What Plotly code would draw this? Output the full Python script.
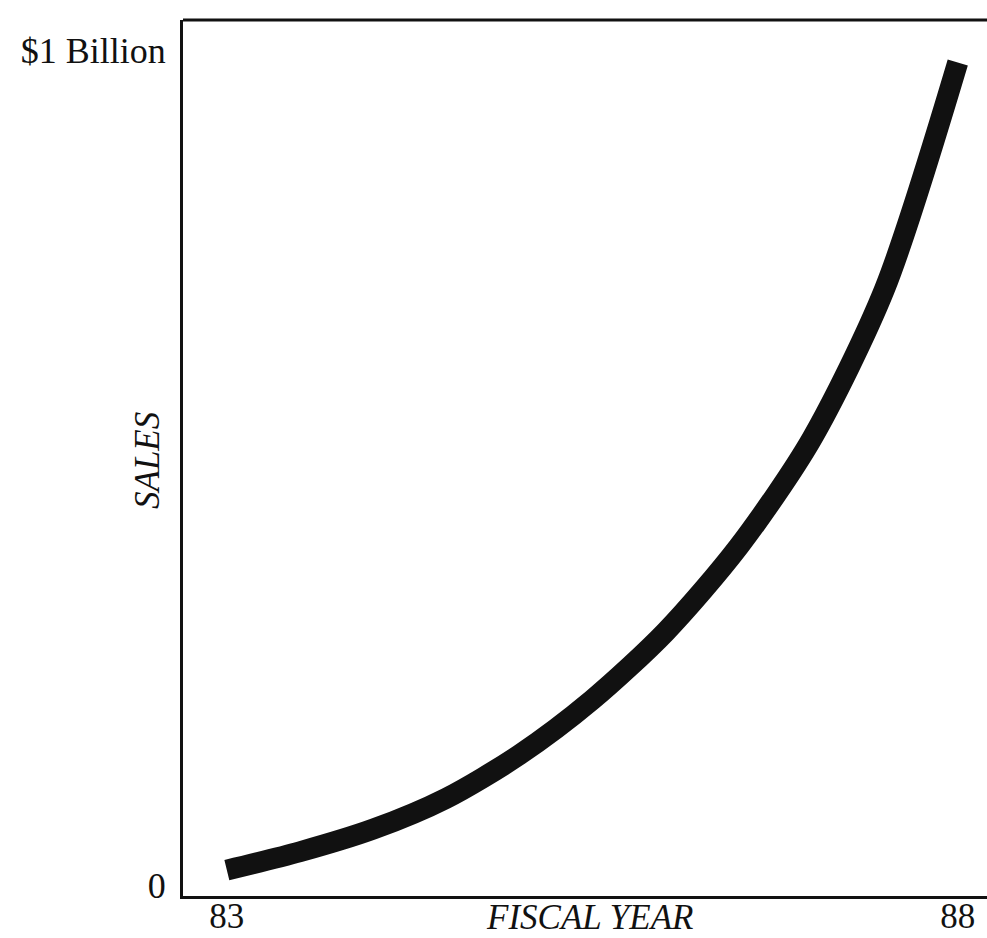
import plotly.graph_objects as go

years = [83, 83.5, 84, 84.5, 85, 85.5, 86, 86.5, 87, 87.5, 88]
sales = [0.018, 0.040, 0.067, 0.104, 0.156, 0.222, 0.303, 0.405, 0.534, 0.714, 0.985]
x_tick_vals = [83, 88]
x_tick_text = ["83", "88"]
y_tick_vals = [0, 1]
y_tick_text = ["0", "$1 Billion"]

FONT = "Liberation Serif"

fig = go.Figure()
fig.add_trace(go.Scatter(
    x=years, y=sales, mode="lines",
    line=dict(color="#111111", width=21, shape="spline", smoothing=0.8),
    hoverinfo="skip", showlegend=False,
))

fig.update_layout(
    width=987, height=938,
    margin=dict(l=183, r=0, t=20, b=42),
    paper_bgcolor="white", plot_bgcolor="white",
    font=dict(family=FONT, color="#111111"),
    xaxis=dict(
        range=[82.70, 88.2], tickvals=x_tick_vals, ticktext=x_tick_text,
        showgrid=False, zeroline=False, showline=True, linecolor="#111111",
        linewidth=3, ticks="", automargin=False, ticklabelstandoff=-13,
        tickfont=dict(family=FONT, size=35, color="#111111"),
    ),
    yaxis=dict(
        range=[-0.013, 1.036], tickvals=y_tick_vals, ticktext=y_tick_text,
        showgrid=False, zeroline=False, showline=True, linecolor="#111111",
        linewidth=3, ticks="", ticklabelstandoff=7, automargin=False,
        tickfont=dict(family=FONT, size=36, color="#111111"),
    ),
    shapes=[dict(type="line", xref="paper", yref="paper", x0=0, x1=1, y0=1, y1=1,
                 line=dict(color="#111111", width=3))],
    annotations=[
        dict(text="<i>FISCAL YEAR</i>", xref="paper", yref="paper", x=0.505, y=-0.0245,
             xanchor="center", yanchor="middle", showarrow=False,
             font=dict(family=FONT, size=35, color="#111111")),
        dict(text="<i>SALES</i>", xref="paper", yref="paper", x=-0.0448, y=0.4977,
             xanchor="center", yanchor="middle", showarrow=False, textangle=-90,
             font=dict(family=FONT, size=35, color="#111111")),
    ],
)

fig.write_html("out.html", config={"displayModeBar": False},
               post_script="document.body.style.margin='0';document.body.style.overflow='hidden';")
